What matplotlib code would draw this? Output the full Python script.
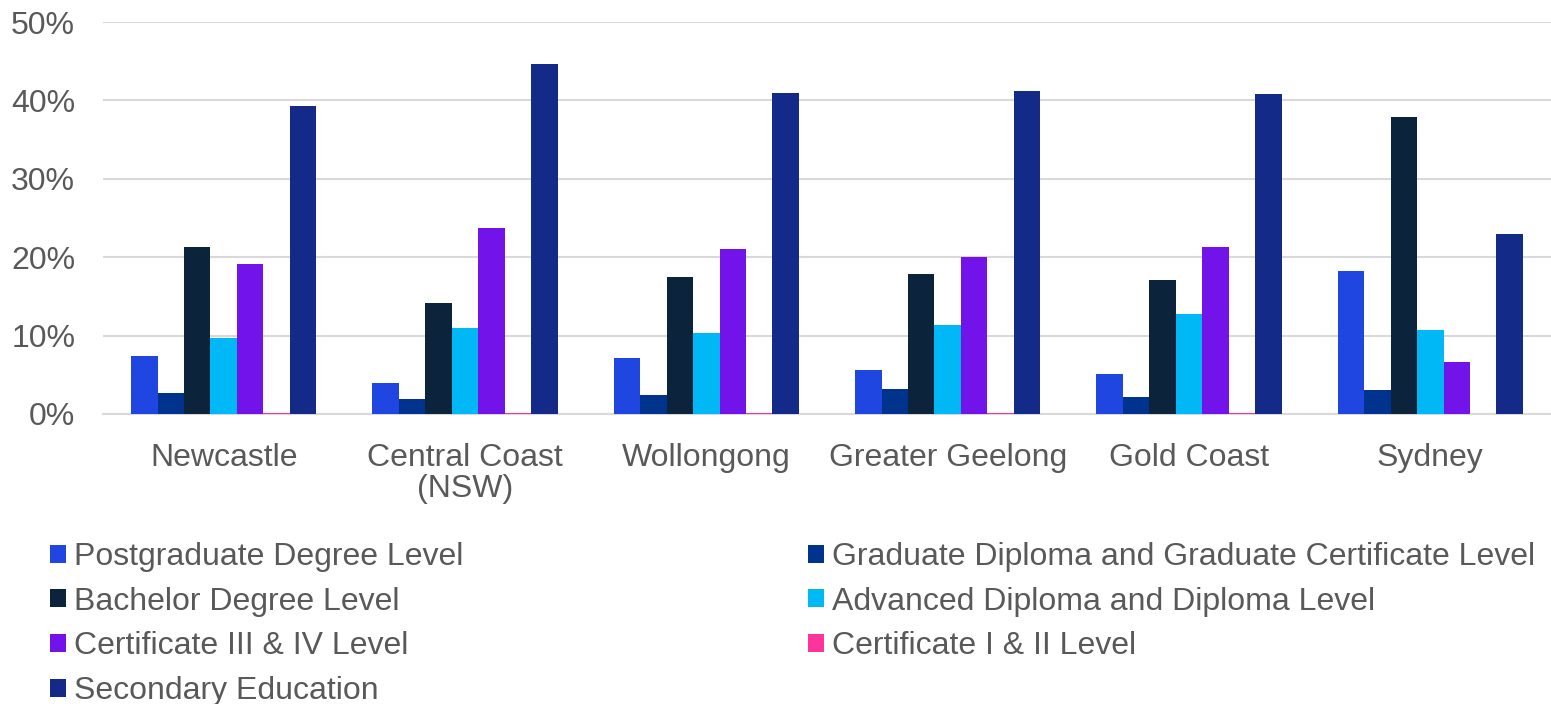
import matplotlib as mpl
mpl.use("Agg")
import matplotlib.pyplot as plt
import numpy as np

plt.rcParams['font.family'] = ['Liberation Sans', 'DejaVu Sans']

regions = ["Newcastle", "Central Coast\n(NSW)", "Wollongong", "Greater Geelong", "Gold Coast", "Sydney"]

series_names = [
    "Postgraduate Degree Level",
    "Graduate Diploma and Graduate Certificate Level",
    "Bachelor Degree Level",
    "Advanced Diploma and Diploma Level",
    "Certificate III & IV Level",
    "Certificate I & II Level",
    "Secondary Education",
]

postgrad = [7.4, 4.0, 7.1, 5.6, 5.1, 18.2]
grad_dip = [2.7, 1.9, 2.4, 3.2, 2.2, 3.1]
bachelor = [21.3, 14.2, 17.5, 17.9, 17.1, 37.9]
adv_dip = [9.7, 11.0, 10.3, 11.4, 12.8, 10.7]
cert_3_4 = [19.1, 23.7, 21.0, 20.0, 21.3, 6.6]
cert_1_2 = [0.1, 0.1, 0.1, 0.1, 0.1, 0.0]
secondary = [39.3, 44.6, 40.9, 41.2, 40.8, 23.0]

colors = ["#1f46e0", "#00338d", "#0c233c", "#00b8f5", "#7213ea", "#fd349c", "#142a88"]

data = [postgrad, grad_dip, bachelor, adv_dip, cert_3_4, cert_1_2, secondary]

fig = plt.figure(figsize=(15.51, 7.04), dpi=100)
ax = fig.add_axes([103 / 1551, 1 - 414 / 704, 1 - 103 / 1551, (414 - 22) / 704])

x = np.arange(len(regions))
n = len(data)
bw = 0.767 / n
handles = []
for i, (vals, c, name) in enumerate(zip(data, colors, series_names)):
    b = ax.bar(x + (i - (n - 1) / 2) * bw, np.array(vals) / 100, bw, color=c, label=name, zorder=3)
    handles.append(b)

ax.set_xlim(-0.5, len(regions) - 0.5)
ax.set_ylim(0, 0.5)
ax.set_yticks(np.arange(0, 0.51, 0.1))
ax.set_yticklabels([f"{int(round(v * 100))}%" for v in np.arange(0, 0.51, 0.1)])
ax.set_xticks(x)
ax.set_xticklabels(regions, linespacing=1.05)
ax.tick_params(axis='both', length=0, labelsize=23, colors="#595959")
ax.tick_params(axis='x', pad=21)
ax.tick_params(axis='y', pad=20)
ax.grid(axis='y', color="#d9d9d9", linewidth=1.5, zorder=0)
for s in ["top", "right", "left"]:
    ax.spines[s].set_visible(False)
ax.spines["bottom"].set_color("#d9d9d9")
ax.spines["bottom"].set_linewidth(1.5)

order = [0, 2, 4, 6, 1, 3, 5]
leg = fig.legend([handles[i] for i in order], [series_names[i] for i in order],
                 ncol=2, loc="upper left", bbox_to_anchor=(50 / 1551, 1 - 542 / 704),
                 frameon=False, fontsize=23, handlelength=0.5, handleheight=0.5,
                 handletextpad=0.25, labelspacing=0.46, columnspacing=10.8,
                 borderpad=0, borderaxespad=0)
for t in leg.get_texts():
    t.set_color("#595959")

fig.savefig("out.png", dpi=100)
